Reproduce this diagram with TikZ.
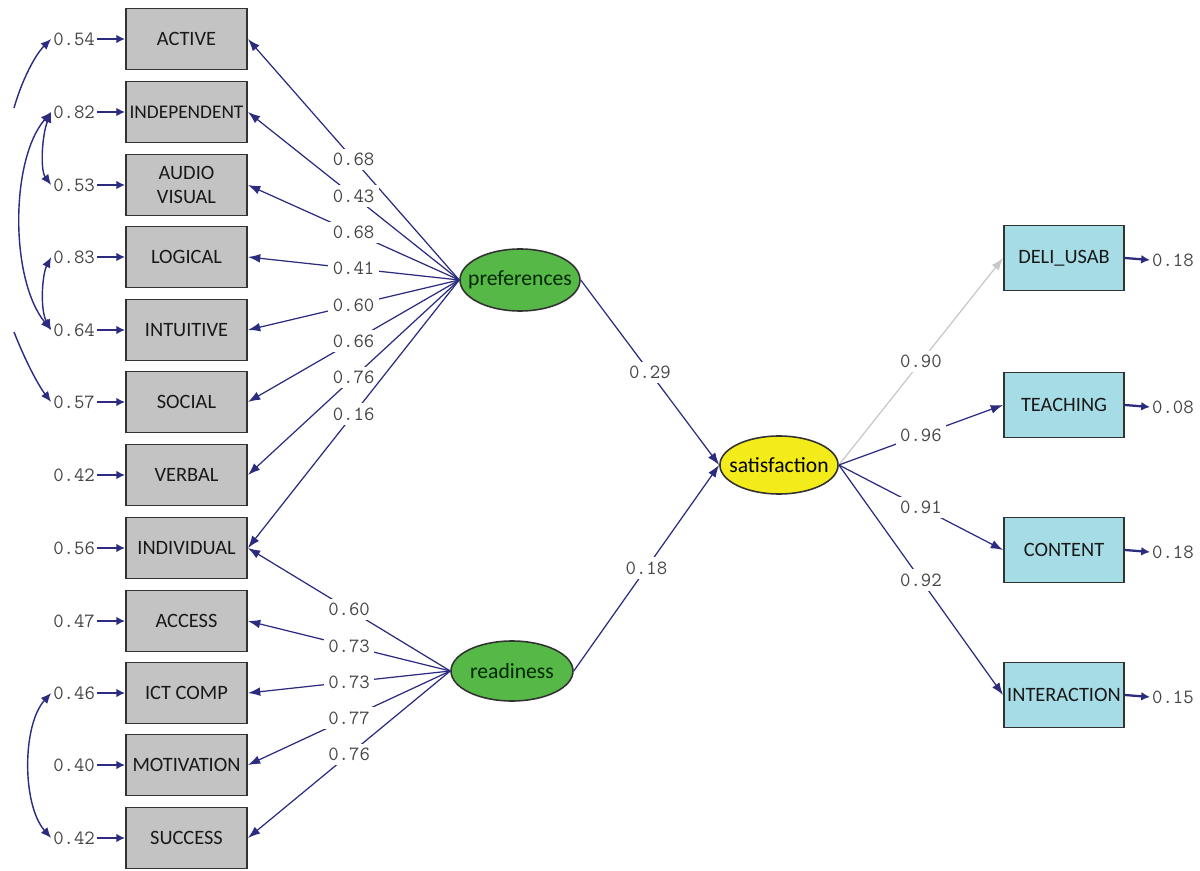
\documentclass[tikz,border=0pt]{standalone}
\usepackage{fontspec}
\setmainfont{Carlito}
\usetikzlibrary{arrows.meta,shapes.geometric}
\definecolor{navy}{HTML}{2B2B80}
\definecolor{numgray}{HTML}{454545}
\definecolor{boxgray}{HTML}{C3C3C3}
\definecolor{boxblue}{HTML}{A6DCE6}
\definecolor{latgreen}{HTML}{56B947}
\definecolor{latyellow}{HTML}{F4EC1A}
\definecolor{lightln}{HTML}{C8C8C8}
\begin{document}
\begin{tikzpicture}[x=0.02cm,y=-0.02cm,
  obs/.style={draw=black!80, line width=1.1pt, fill=boxgray, minimum width=2.42cm, minimum height=1.22cm, inner sep=1pt, font=\fontsize{11.6}{13.6}\selectfont, align=center, text=black!90},
  rbox/.style={obs, fill=boxblue, minimum width=2.4cm, minimum height=1.3cm},
  lat/.style={ellipse, draw=black!80, line width=0.9pt, minimum width=2.4cm, minimum height=1.24cm, inner ysep=0pt, inner xsep=-5.5pt, font=\fontsize{12.3}{14}\selectfont},
  num/.style={font=\ttfamily\fontsize{11.5}{12}\selectfont, text=numgray, inner sep=1pt},
  lbl/.style={num, fill=white, inner sep=2.5pt},
  ld/.style={draw=navy, line width=0.7pt, -{Latex[length=7pt,width=5pt]}},
  err/.style={draw=navy, line width=1.3pt, -{Latex[length=5pt,width=5pt]}},
  cov/.style={draw=navy, line width=0.8pt, {Latex[length=6pt,width=5pt]}-{Latex[length=6pt,width=5pt]}},
  half/.style={draw=navy, line width=0.8pt, -{Latex[length=6pt,width=5pt]}},
]
\useasboundingbox[fill=white] (0,0) rectangle (1200,871);

% observed left boxes
\node[obs] (active) at (186.5,39) {ACTIVE};
\node[obs] (indep) at (186.5,112) {\fontsize{11}{12}\selectfont INDEPENDENT};
\node[obs] (audio) at (186.5,185) {AUDIO\\VISUAL};
\node[obs] (logical) at (186.5,257) {LOGICAL};
\node[obs] (intuit) at (186.5,330) {INTUITIVE};
\node[obs] (social) at (186.5,402) {SOCIAL};
\node[obs] (verbal) at (186.5,475) {VERBAL};
\node[obs] (indiv) at (186.5,548) {INDIVIDUAL};
\node[obs] (access) at (186.5,621) {ACCESS};
\node[obs] (ict) at (186.5,693) {ICT COMP};
\node[obs] (motiv) at (186.5,765) {MOTIVATION};
\node[obs] (success) at (186.5,838) {SUCCESS};

% error labels left
\node[num, anchor=east] (e1) at (97,39) {0.54};
\node[num, anchor=east] (e2) at (97,112) {0.82};
\node[num, anchor=east] (e3) at (97,185) {0.53};
\node[num, anchor=east] (e4) at (97,257) {0.83};
\node[num, anchor=east] (e5) at (97,330) {0.64};
\node[num, anchor=east] (e6) at (97,402) {0.57};
\node[num, anchor=east] (e7) at (97,475) {0.42};
\node[num, anchor=east] (e8) at (97,548) {0.56};
\node[num, anchor=east] (e9) at (97,621) {0.47};
\node[num, anchor=east] (e10) at (97,693) {0.46};
\node[num, anchor=east] (e11) at (97,765) {0.40};
\node[num, anchor=east] (e12) at (97,838) {0.42};

\foreach \e/\b in {e1/active,e2/indep,e3/audio,e4/logical,e5/intuit,e6/social,e7/verbal,e8/indiv,e9/access,e10/ict,e11/motiv,e12/success}
  \draw[err] (\e.east) -- (\b.west);

% latent variables
\node[lat, fill=latgreen, text=black!85!green] (pref) at (520,280) {preferences};
\node[lat, fill=latgreen, text=black!85!green, minimum width=2.44cm, minimum height=1.2cm] (ready) at (512,671) {readiness};
\node[lat, fill=latyellow, minimum width=2.36cm, minimum height=1.16cm, inner xsep=-4.5pt] (sat) at (779,465) {satisfaction};

% right boxes
\node[rbox] (deli) at (1064,258) {DELI\_USAB};
\node[rbox] (teach) at (1064,405) {TEACHING};
\node[rbox] (content) at (1064,550) {CONTENT};
\node[rbox] (inter) at (1064,695) {INTERACTION};

\node[num, anchor=west] (r1) at (1150,260) {0.18};
\node[num, anchor=west] (r2) at (1150,407) {0.08};
\node[num, anchor=west] (r3) at (1150,552) {0.18};
\node[num, anchor=west] (r4) at (1150,697) {0.15};
\foreach \e/\b in {r1/deli,r2/teach,r3/content,r4/inter}
  \draw[err] (\b.east) -- (\e.west);

% loadings from preferences
\foreach \b/\v in {active/0.68,indep/0.43,audio/0.68,logical/0.41,intuit/0.60,social/0.66,verbal/0.76,indiv/0.16}
  \draw[ld] (pref.west) -- node[lbl, pos=0.5] {\v} (\b.east);

% loadings from readiness
\foreach \b/\v in {indiv/0.60,access/0.73,ict/0.73,motiv/0.77,success/0.76}
  \draw[ld] (ready.west) -- node[lbl, pos=0.5] {\v} (\b.east);

% structural paths
\draw[ld] (pref.east) -- node[lbl, pos=0.5] {0.29} (sat.west);
\draw[ld] (ready.east) -- node[lbl, pos=0.5] {0.18} (sat.west);

% satisfaction indicators
\draw[ld, draw=lightln] (sat.east) -- node[lbl, pos=0.5] {0.90} (deli.west);
\draw[ld] (sat.east) -- node[lbl, pos=0.5] {0.96} (teach.west);
\draw[ld] (sat.east) -- node[lbl, pos=0.5] {0.91} (content.west);
\draw[ld] (sat.east) -- node[lbl, pos=0.5] {0.92} (inter.west);

% error covariances
\coordinate (c1) at (14,108);
\coordinate (c2) at (14,332);
\draw[half] (c1) .. controls (22,80) and (35,55) .. (e1.west);
\draw[cov] (e2.west) .. controls (10,160) and (10,280) .. (e5.west);
\draw[cov] (e2.west) .. controls (42,135) and (40,170) .. (e3.west);
\draw[cov] (e4.west) .. controls (42,275) and (40,310) .. (e5.west);
\draw[half] (c2) .. controls (25,360) and (38,385) .. (e6.west);
\draw[cov] (e10.west) .. controls (22,725) and (22,805) .. (e12.west);
\end{tikzpicture}
\end{document}
